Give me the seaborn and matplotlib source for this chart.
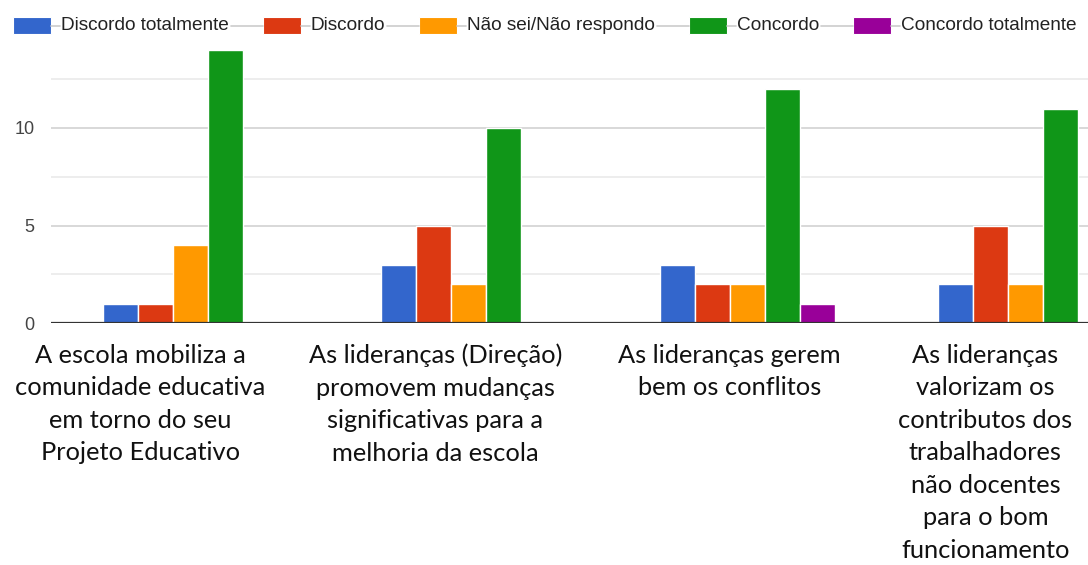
import numpy as np
import pandas as pd
import matplotlib
matplotlib.use("Agg")
import matplotlib.pyplot as plt
import seaborn as sns
from matplotlib.patches import Rectangle
from matplotlib.lines import Line2D
from matplotlib.transforms import IdentityTransform

# ---------------- data ----------------
categories = [
    "A escola mobiliza a\ncomunidade educativa\nem torno do seu\nProjeto Educativo",
    "As lideranças (Direção)\npromovem mudanças\nsignificativas para a\nmelhoria da escola",
    "As lideranças gerem\nbem os conflitos",
    "As lideranças\nvalorizam os\ncontributos dos\ntrabalhadores\nnão docentes\npara o bom\nfuncionamento",
]
responses = ["Discordo totalmente", "Discordo", "Não sei/Não respondo",
             "Concordo", "Concordo totalmente"]
discordo_totalmente = [1, 3, 3, 2]
discordo = [1, 5, 2, 5]
nao_sei = [4, 2, 2, 2]
concordo = [14, 10, 12, 11]
concordo_totalmente = [0, 0, 1, 0]
colors = ["#3366cc", "#dc3912", "#ff9900", "#109618", "#990099"]
label_shift = [-0.18, -0.12, -0.065, -0.145]

series = [discordo_totalmente, discordo, nao_sei, concordo, concordo_totalmente]
rows = []
for resp, vals in zip(responses, series):
    for cat, v in zip(categories, vals):
        rows.append({"pergunta": cat, "resposta": resp, "n": v})
df = pd.DataFrame(rows)

# ---------------- figure ----------------
W, H = 1088, 565
sns.set_style("white")
plt.rcParams["font.family"] = ["Liberation Sans", "DejaVu Sans"]
fig = plt.figure(figsize=(W / 100, H / 100), dpi=100)
ax_left, ax_bottom, ax_top = 51, 323, 50
ax = fig.add_axes([ax_left / W, (H - ax_bottom) / H, (W - ax_left) / W,
                   (ax_bottom - ax_top) / H])

sns.barplot(data=df, x="pergunta", y="n", hue="resposta", order=categories,
            hue_order=responses, palette=colors, width=0.628,
            edgecolor="white", linewidth=1, ax=ax, legend=False, errorbar=None,
            saturation=1)

group_px = 278.5
ax.set_ylim(0, 14)
ax.set_xlim(-0.5, -0.5 + (W - ax_left) / group_px)

ax.set_yticks([0, 5, 10])
ax.set_yticks([2.5, 7.5, 12.5], minor=True)
ax.grid(axis="y", which="major", color="#d6d6d6", lw=1.3)
ax.grid(axis="y", which="minor", color="#ececec", lw=1.3)
ax.grid(axis="x", visible=False)
ax.set_axisbelow(True)
for s in ax.spines.values():
    s.set_visible(False)
ax.axhline(0, color="#333333", lw=1.6, zorder=3)
ax.tick_params(axis="y", which="both", length=0, labelsize=13,
               labelcolor="#444444", pad=12)
ax.set_xlabel("")
ax.set_ylabel("")

# category labels (Calibri-like)
lab_font = "Lato"
renderer = fig.canvas.get_renderer()
probe_w = 0
for s in ["A escola mobiliza a", "comunidade educativa"]:
    probe = fig.text(0, 0, s, family=lab_font, fontsize=18)
    probe_w += probe.get_window_extent(renderer).width
    probe.remove()
lab_size = 18 * 460 / probe_w
ax.set_xticks(np.arange(len(categories)) + np.array(label_shift))
ax.set_xticklabels(categories, family=lab_font, fontsize=lab_size,
                   linespacing=1.5, color="#111111")
ax.tick_params(axis="x", length=0, pad=15)

# ---------------- legend (Google-chart style) ----------------
tr = IdentityTransform()
leg_y = H - 25.5
x = 13
box_w, box_h = 38, 17
for i, (resp, col) in enumerate(zip(responses, colors)):
    fig.add_artist(Rectangle((x, leg_y - box_h / 2), box_w, box_h,
                             transform=tr, facecolor=col, edgecolor="white",
                             lw=0.8))
    tx = x + box_w + 10
    fig.add_artist(Line2D([x + box_w, tx - 1], [leg_y, leg_y], transform=tr,
                          color="#cccccc", lw=1.2))
    t = fig.text(tx, leg_y, resp, transform=tr, fontsize=13.7, va="center",
                 ha="left", color="#222222")
    ext = t.get_window_extent(renderer)
    xe = ext.x1
    nx = xe + 34
    if i < len(responses) - 1:
        fig.add_artist(Line2D([xe + 2, nx], [leg_y, leg_y], transform=tr,
                              color="#cccccc", lw=1.2))
    x = nx

fig.savefig("out.png", dpi=100)
